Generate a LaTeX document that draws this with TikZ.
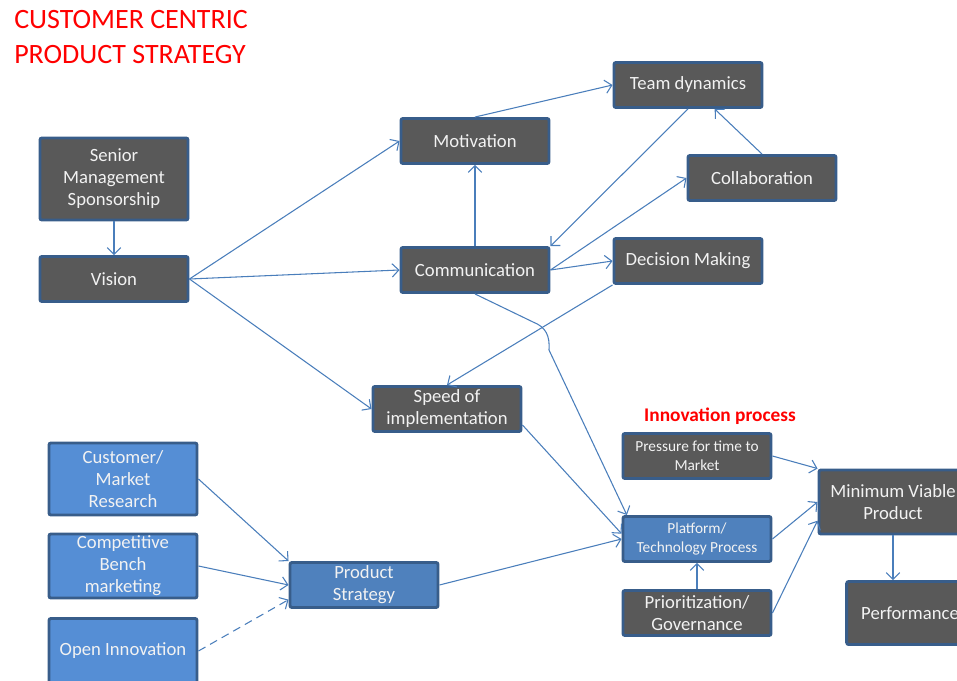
\documentclass[tikz,border=0pt]{standalone}
\usepackage{fontspec}
\setmainfont{Carlito}
\usetikzlibrary{positioning,shapes,arrows.meta}

\definecolor{boxgray}{HTML}{595959}
\definecolor{boxblue}{HTML}{558ED5}
\definecolor{boxblueb}{HTML}{4F81BD}
\definecolor{rimblue}{HTML}{385D8A}
\definecolor{linkblue}{HTML}{4A7EBB}

\begin{document}
\begin{tikzpicture}[x=0.75pt, y=-0.75pt, on grid,
    >={Straight Barb[length=5pt,width=10pt]},
    box/.style={draw=rimblue, line width=2.2pt, rounded corners=1.5pt,
      fill=boxgray, text=white!95!black, align=center,
      minimum width=111pt, minimum height=33.75pt, inner sep=1pt,
      font=\fontsize{14}{16.5}\selectfont},
    bluebox/.style={box, fill=boxblue},
    smalltext/.style={font=\fontsize{11.5}{14}\selectfont}
  ]
    \clip (0,0) rectangle (957,681);

    \node[anchor=north west, align=left, inner sep=0pt, text=red,
      font=\fontsize{21}{26.25}\selectfont] (title) at (14,10)
      {CUSTOMER CENTRIC\\PRODUCT STRATEGY};

    % left column
    \node[box, minimum height=61.5pt] (senior) at (114,179) {Senior\\Management\\Sponsorship};
    \node[box] (vision) [below=75pt of senior] {Vision};

    % middle
    \node[box] (motivation) at (475,141) {Motivation};
    \node[box] (comm) [below=96.75pt of motivation] {Communication};
    \node[box] (speed) at (447,409) {Speed of\\implementation};
    \node[box] (team) at (688,85) {Team dynamics};
    \node[box] (collab) at (762,178) {Collaboration};
    \node[box] (decision) at (688,261) {Decision Making};

    % product inputs
    \node[bluebox, minimum height=54pt] (customer) at (123,479) {Customer/\\Market\\Research};
    \node[bluebox, minimum height=48pt] (competitive) [below=65.25pt of customer] {Competitive\\Bench\\marketing};
    \node[bluebox, minimum height=48.75pt] (open) at (123,651) {Open Innovation};
    \node[box, fill=boxblueb] (product) at (364,585) {Product\\Strategy};

    % innovation process
    \node[text=red, font=\bfseries\fontsize{14.5}{16}\selectfont] (innov) at (720,416) {Innovation process};
    \node[box, smalltext] (pressure) at (697,456) {Pressure for time to\\Market};
    \node[box, smalltext, fill=boxblueb] (platform) [below=62.25pt of pressure] {Platform/\\Technology Process};
    \node[box] (prio) [below=55.5pt of platform] {Prioritization/\\Governance};
    \node[box, minimum height=48pt] (mvp) at (893,502) {Minimum Viable\\Product};
    \node[box, minimum width=95pt, minimum height=47.25pt] (perf) at (910,613) {Performance};

    \path[->, color=linkblue, line width=0.8pt]
    (senior) edge (vision)
    (vision.east) edge (motivation.west)
                  edge (comm.west)
                  edge (speed.west)
    (comm) edge (motivation)
    (motivation.north) edge (team.west)
    (team.south) edge (comm.north east)
    (collab.north) edge ([xshift=20pt]team.south)
    (comm.east) edge (collab.west)
                edge (decision.west)
    (decision.south west) edge (speed.north)
    ([yshift=-12pt]speed.east) edge ([yshift=4pt]platform.west)
    (product.east) edge (platform.west)
    (customer.east) edge (product.north west)
    (competitive.east) edge (product.west)
    (open.east) edge[dash pattern=on 6pt off 4pt] ([yshift=-11pt]product.west)
    (pressure.east) edge (mvp.north west)
    (platform.east) edge (mvp.west)
    (prio.east) edge ([yshift=-14pt]mvp.west)
    (prio) edge (platform)
    (mvp.south) edge (mvp.south |- perf.north)
    ;

    % communication feeds the platform, hopping over the decision line
    \draw[->, draw=linkblue, line width=0.8pt]
      (comm.south) -- (533,322) .. controls (546,327) and (550,336) .. (549,350)
      -- ([xshift=4pt]platform.north west);
\end{tikzpicture}
\end{document}
